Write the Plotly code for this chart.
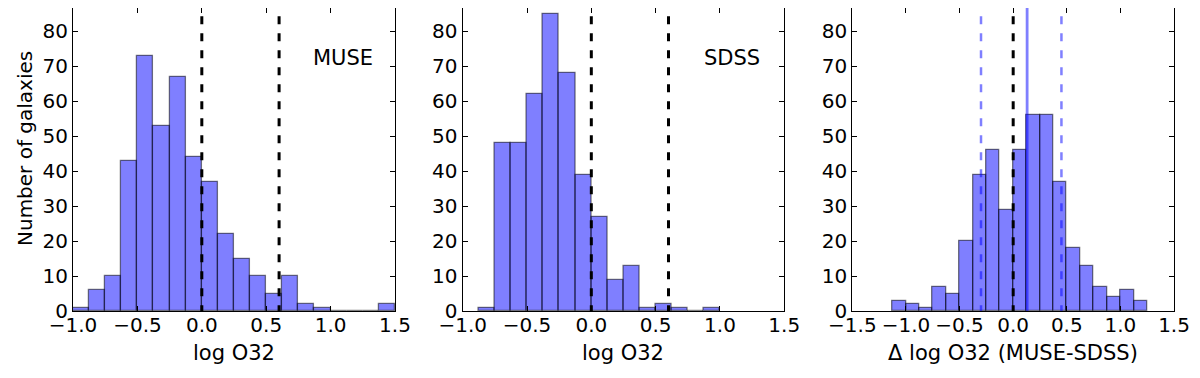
import plotly.graph_objects as go

# histogram bins (left edges), width 0.125
bins_muse = [-1.0, -0.875, -0.75, -0.625, -0.5, -0.375, -0.25, -0.125, 0.0, 0.125,
             0.25, 0.375, 0.5, 0.625, 0.75, 0.875, 1.0, 1.125, 1.25, 1.375]
counts_muse = [1, 6, 10, 43, 73, 53, 67, 44, 37, 22, 15, 10, 5, 10, 2, 1, 0, 0, 0, 2]

bins_sdss = [-0.875, -0.75, -0.625, -0.5, -0.375, -0.25, -0.125, 0.0, 0.125,
             0.25, 0.375, 0.5, 0.625, 0.75, 0.875]
counts_sdss = [1, 48, 48, 62, 85, 68, 39, 27, 9, 13, 1, 2, 1, 0, 1]

bins_diff = [-1.125, -1.0, -0.875, -0.75, -0.625, -0.5, -0.375, -0.25, -0.125, 0.0,
             0.125, 0.25, 0.375, 0.5, 0.625, 0.75, 0.875, 1.0, 1.125]
counts_diff = [3, 2, 1, 7, 5, 20, 39, 46, 29, 46, 56, 56, 37, 18, 13, 7, 4, 6, 3]

bin_width = 0.125
cuts = [0.0, 0.6]
diff_median = 0.13
diff_spread = [-0.30, 0.45]

FONT = "DejaVu Sans"
BAR = "rgba(0,0,255,0.5)"
EDGE = "rgba(0,0,0,0.5)"
BLUE_LINE = "rgba(0,0,255,0.5)"
DASH = "8px,9px"
YMAX = 86.6
LINE_TOP = 89.1  # vertical lines start just above the frame (dash phase)

fig = go.Figure()

# page has an 8px body margin, domains are shifted to compensate
panels = [
    ("x", "y", bins_muse, counts_muse, [-1.0, 1.5], [0.0542, 0.3225]),
    ("x2", "y2", bins_sdss, counts_sdss, [-1.0, 1.5], [0.3789, 0.6469]),
    ("x3", "y3", bins_diff, counts_diff, [-1.5, 1.5], [0.7036, 0.9717]),
]
YDOM = [0.1984, 1.0]

for xa, ya, edges, counts, rng, dom in panels:
    fig.add_trace(go.Bar(
        x=[e + bin_width / 2 for e in edges], y=counts, width=bin_width,
        marker=dict(color=BAR, line=dict(color=EDGE, width=1.3)),
        xaxis=xa, yaxis=ya, showlegend=False, hoverinfo="skip"))

# dashed cut lines in the first two panels
for xa, ya in [("x", "y"), ("x2", "y2")]:
    for c in cuts:
        fig.add_trace(go.Scatter(x=[c, c], y=[LINE_TOP, 0], mode="lines",
                                 line=dict(color="black", width=3, dash=DASH),
                                 xaxis=xa, yaxis=ya, showlegend=False, hoverinfo="skip"))

# difference panel lines
fig.add_trace(go.Scatter(x=[0, 0], y=[LINE_TOP, 0], mode="lines",
                         line=dict(color="black", width=3, dash=DASH),
                         xaxis="x3", yaxis="y3", showlegend=False, hoverinfo="skip"))
for s in diff_spread:
    fig.add_trace(go.Scatter(x=[s, s], y=[LINE_TOP, 0], mode="lines",
                             line=dict(color=BLUE_LINE, width=2.5, dash=DASH),
                             xaxis="x3", yaxis="y3", showlegend=False, hoverinfo="skip"))
fig.add_trace(go.Scatter(x=[diff_median, diff_median], y=[LINE_TOP, 0], mode="lines",
                         line=dict(color=BLUE_LINE, width=2.8),
                         xaxis="x3", yaxis="y3", showlegend=False, hoverinfo="skip"))

axis_common = dict(showgrid=False, zeroline=False, showline=True, linecolor="black",
                   linewidth=1.3, mirror="ticks", ticks="inside", ticklen=5,
                   tickcolor="black", tickwidth=1, automargin=False,
                   tickfont=dict(family=FONT, size=20, color="black"))

xticks12 = [-1.0, -0.5, 0.0, 0.5, 1.0, 1.5]
xticks3 = [-1.5, -1.0, -0.5, 0.0, 0.5, 1.0, 1.5]

def fmt(v):
    s = f"{abs(v):.1f}"
    return ("\u2212" + s) if v < 0 else s

layout = dict(
    width=1200, height=378, plot_bgcolor="white", paper_bgcolor="white",
    margin=dict(l=0, r=0, t=0, b=0), bargap=0,
    font=dict(family=FONT, size=20, color="black"),
)
titles = ["log O32", "log O32", "\u0394 log O32 (MUSE-SDSS)"]
for i, (xa, ya, edges, counts, rng, dom) in enumerate(panels):
    xn = "xaxis" if i == 0 else f"xaxis{i+1}"
    yn = "yaxis" if i == 0 else f"yaxis{i+1}"
    tv = xticks3 if i == 2 else xticks12
    layout[xn] = dict(axis_common, domain=dom, range=rng, anchor=ya,
                      tickvals=tv, ticktext=[fmt(v) for v in tv], ticklabelstandoff=-4)
    layout[yn] = dict(axis_common, domain=YDOM, range=[0, YMAX], anchor=xa,
                      tickvals=[0, 10, 20, 30, 40, 50, 60, 70, 80])

fig.update_layout(**layout)

# axis titles
for (xa, ya, edges, counts, rng, dom), t in zip(panels, titles):
    fig.add_annotation(x=(dom[0] + dom[1]) / 2, y=1 - 345 / 378, xref="paper", yref="paper",
                       text=t, showarrow=False, xanchor="center", yanchor="middle",
                       font=dict(family=FONT, size=21, color="black"))
fig.add_annotation(x=17 / 1200, y=1 - 141 / 378, xref="paper", yref="paper",
                   text="Number of galaxies", textangle=-90, showarrow=False,
                   xanchor="center", yanchor="middle",
                   font=dict(family=FONT, size=20, color="black"))

fig.add_annotation(x=1.1, y=72.3, xref="x", yref="y", text="MUSE", showarrow=False,
                   font=dict(family=FONT, size=21, color="black"))
fig.add_annotation(x=1.09, y=72.3, xref="x2", yref="y2", text="SDSS", showarrow=False,
                   font=dict(family=FONT, size=21, color="black"))

fig.write_html("out.html")
